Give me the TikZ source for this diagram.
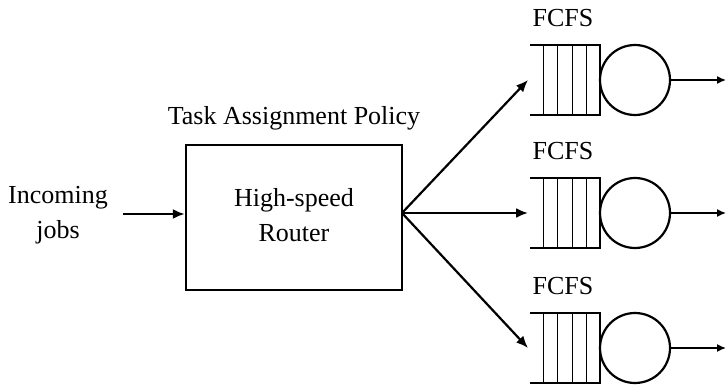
\documentclass[tikz,border=0pt]{standalone}
\usepackage{fontspec}
\setmainfont{Liberation Serif}
\usetikzlibrary{arrows.meta}
\begin{document}
\begin{tikzpicture}[x=1pt,y=-1pt,
  txt/.style={font=\fontsize{26}{35}\selectfont, align=center, inner sep=0pt},
  conn/.style={line width=2.2pt, -{Latex[length=12pt,width=10pt]}},
  thick line/.style={line width=2.4pt},
  slot/.style={line width=0.9pt}]
\useasboundingbox (0,0) rectangle (726,385);
% router
\node[draw, line width=2.4pt, minimum width=216pt, minimum height=145pt, inner sep=0pt] (router) at (294,217.5) {};
\node[txt] (rtext) at (294,215.5) {High-speed\\Router};
\node[txt] (policy) at (294,118) {Task Assignment Policy};
\node[txt] (incoming) at (58,215) {Incoming\\jobs};
\coordinate (inS) at (123,214);
\draw[conn] (inS) -- (router.west |- inS);
\coordinate (fan) at (402,213);
\foreach \i/\yc in {1/80,2/213,3/348}{
  \coordinate (q\i) at (530,\yc);
  \draw[thick line] (530,\yc-35) -- (600,\yc-35) -- (600,\yc+35) -- (530,\yc+35);
  \foreach \xx in {543,557,572,586}{\draw[slot] (\xx,\yc-35) -- (\xx,\yc+35);}
  \node[draw, circle, line width=2.2pt, minimum size=70pt, inner sep=0pt] (srv\i) at (635,\yc) {};
  \node[txt] (fcfs\i) at (563,\yc-62) {FCFS};
  \coordinate (out\i) at (726,\yc);
  \draw[line width=1.5pt, -{Latex[length=9pt,width=8pt]}] (srv\i.east) -- (out\i);
}
\draw[conn] (fan) -- ([xshift=-2pt]q1);
\draw[conn] (fan) -- ([xshift=-2pt]q2);
\draw[conn] (fan) -- ([xshift=-2pt]q3);
\end{tikzpicture}
\end{document}
